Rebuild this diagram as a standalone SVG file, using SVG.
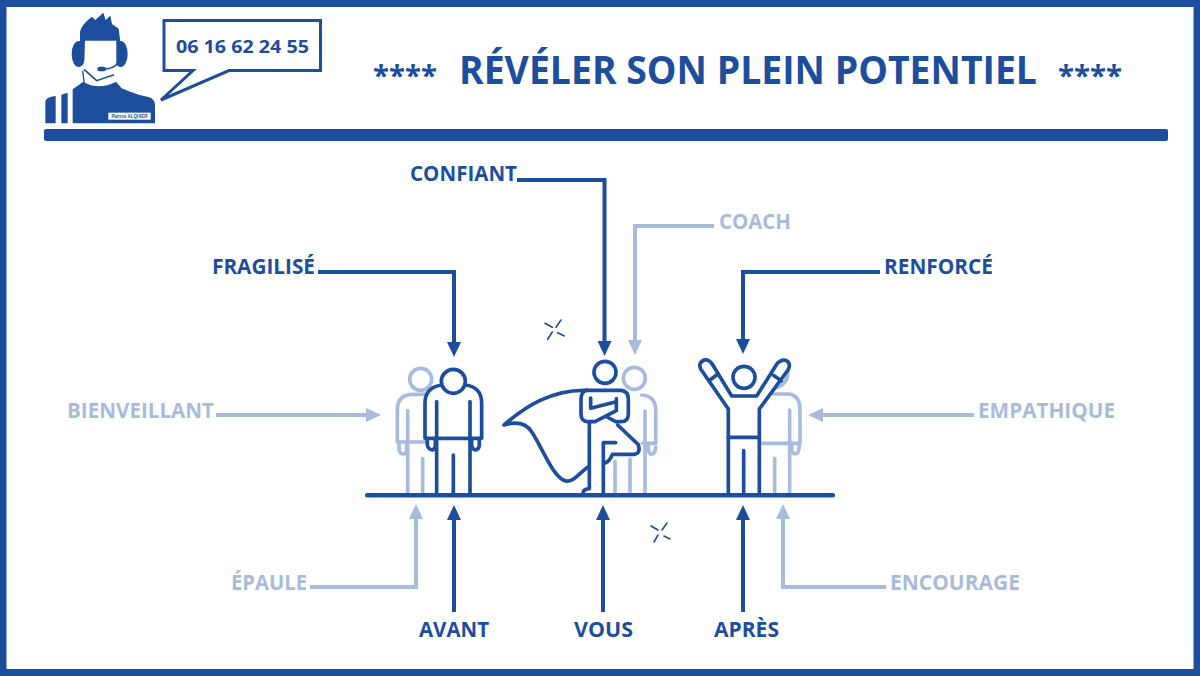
<svg xmlns="http://www.w3.org/2000/svg" width="1200" height="676" viewBox="0 0 1200 676">
  <style>
    text { font-family: "Open Sans", "Liberation Sans", sans-serif; font-weight: 700; }
    .dk { fill: #1d4e9e; }
    .lt { fill: #a9bbdc; }
    .label { font-size: 20.500px; }
    .fig { fill: none; stroke-width: 11; stroke-linecap: round; stroke-linejoin: round; }
    .figd { stroke: #1d4e9e; }
    .figl { stroke: #a9bbdc; }
    .link { fill: none; stroke-width: 4; }
    .linkd { stroke: #1d4e9e; marker-end: url(#headd); }
    .linkl { stroke: #a9bbdc; marker-end: url(#headl); }
    .spark { stroke: #1d4e9e; stroke-width: 1.6; stroke-linecap: round; }
  </style>
  <defs>
    <marker id="headd" markerUnits="userSpaceOnUse" markerWidth="15" markerHeight="14" refX="0" refY="7" orient="auto">
      <path d="M0,0 L15,7 L0,14 Z" fill="#1d4e9e"/>
    </marker>
    <marker id="headl" markerUnits="userSpaceOnUse" markerWidth="15" markerHeight="14" refX="0" refY="7" orient="auto">
      <path d="M0,0 L15,7 L0,14 Z" fill="#a9bbdc"/>
    </marker>
  </defs>

  <rect width="1200" height="676" fill="#ffffff"/>
  <rect x="3" y="3.500" width="1194" height="669" fill="none" stroke="#1d4e9e" stroke-width="7"/>

  <!-- Operator portrait, drawn on a 3x grid -->
  <g id="operator" transform="translate(30,0) scale(0.33333)">
    <ellipse cx="146" cy="162" rx="21" ry="39" class="dk"/>
    <ellipse cx="272" cy="162" rx="21" ry="39" class="dk"/>
    <path class="dk" d="M150,150 L150,95 Q155,72 186,50 L196,60 L220,38 L227,60 L241,47 L246,72 L266,86 L274,150 Z"/>
    <path fill="#ffffff" d="M165,122 H259 V185 Q255,225 210,241 Q175,235 163,190 Z"/>
    <path fill="none" stroke="#1d4e9e" stroke-width="5" d="M262,192 Q250,205 225,207"/>
    <rect x="202" y="200" width="26" height="14" rx="7" class="dk"/>
    <path fill="none" stroke="#1d4e9e" stroke-width="5" d="M162,208 L200,242 L252,224"/>
    <path fill="none" stroke="#1d4e9e" stroke-width="4" d="M158,212 L162,246"/>
    <path class="dk" d="M128,370 V268 L160,245 Q205,272 258,245 L275,265 Q320,285 358,292 Q375,298 375,315 V370 Z"/>
    <path class="dk" d="M46,370 V305 Q46,292 77,288 V370 Z"/>
    <path class="dk" d="M94,370 V284 L113,278 V370 Z"/>
    <rect x="235" y="338" width="127" height="21" fill="#ffffff"/>
    <text x="298.500" y="353" text-anchor="middle" style="font-family:'Liberation Sans',sans-serif" font-size="13.500" fill="#1d4e9e">Patrice ALQUIER</text>
  </g>

  <g id="phone-bubble">
    <path d="M164,20.500 H320.500 V70.500 H229 L161,100 L193,70.500 H164 Z" fill="#ffffff" stroke="#1d4e9e" stroke-width="3"/>
    <text x="176" y="52.500" class="dk" font-size="18.500" textLength="133" lengthAdjust="spacingAndGlyphs">06 16 62 24 55</text>
  </g>

  <g id="title">
    <text x="373" y="86" class="dk" font-size="29" textLength="64" lengthAdjust="spacingAndGlyphs">****</text>
    <text x="459" y="83.500" class="dk" font-size="39" textLength="578" lengthAdjust="spacingAndGlyphs">RÉVÉLER SON PLEIN POTENTIEL</text>
    <text x="1058" y="86" class="dk" font-size="29" textLength="64" lengthAdjust="spacingAndGlyphs">****</text>
  </g>

  <rect id="header-rule" x="44" y="129" width="1124" height="12" rx="2" class="dk"/>

  <!-- Standing figure with a companion behind -->
  <g id="figure-avant" transform="translate(380,340) scale(0.33333)">
    <g class="fig figl">
      <circle cx="122" cy="118" r="33"/>
      <path d="M135,163 H95 Q52,165 52,210 V306 H140"/>
      <path d="M57,306 V328 Q58,342 72,342 Q80,340 80,328 V306"/>
      <path d="M83,212 V462"/>
      <path d="M128,356 V462"/>
    </g>
    <g class="fig figd">
      <path d="M188,135 Q135,140 135,190 V295 H305 V190 Q305,140 255,135"/>
      <circle cx="220" cy="124" r="36" fill="#ffffff"/>
      <path d="M170,185 V462"/>
      <path d="M270,185 V462"/>
      <path d="M220,345 V462"/>
      <path d="M142,295 V316 Q146,330 158,330 Q166,326 166,316 V295"/>
      <path d="M275,295 V316 Q278,330 288,330 Q298,326 298,316 V295"/>
    </g>
  </g>

  <!-- Caped figure with a companion behind -->
  <g id="figure-vous" transform="translate(495,310) scale(0.33333)">
    <g class="fig figl">
      <circle cx="418" cy="205" r="33"/>
      <path d="M440,255 Q482,258 482,300 V400 H442"/>
      <path d="M460,400 V422 Q464,434 472,432 Q482,428 482,412"/>
      <path d="M450,303 V550"/>
      <path d="M405,447 V550"/>
      <path d="M360,455 V550"/>
    </g>
    <g class="fig figd">
      <circle cx="330" cy="187" r="33"/>
      <path d="M275,241 H378 Q400,243 400,268 V312 Q400,335 378,335 H362 L336,321"/>
      <path d="M275,241 Q258,245 258,268 V312 Q258,335 280,335 H300 L364,302 V266"/>
      <path d="M287,264 V295 L358,277"/>
      <path d="M275,241 C170,238 90,290 27,345 C60,335 90,335 110,365 C140,410 170,492 205,510 C232,524 250,490 280,470"/>
      <path d="M283,338 V536 Q264,538 264,550"/>
      <path d="M362,398 H325 V550"/>
      <path d="M368,345 L430,404 Q438,430 418,433 H352 Q344,455 328,460"/>
    </g>
  </g>

  <!-- Figure with raised arms and a companion behind -->
  <g id="figure-apres" transform="translate(690,340) scale(0.33333)">
    <g class="fig figl">
      <path d="M293,92 Q296,130 262,142"/>
      <path d="M250,162 H295 Q330,165 330,210 V310 H214"/>
      <path d="M305,310 V332 Q310,344 320,340 Q328,336 328,312"/>
      <path d="M299,210 V462"/>
      <path d="M254,355 V462"/>
    </g>
    <g class="fig figd">
      <circle cx="162" cy="112" r="33"/>
      <path d="M115,207 L32,87 Q24,68 43,60 Q58,58 68,74 L125,168 H200 L262,70 Q275,56 290,62 Q304,72 294,90 L208,207 V462"/>
      <path d="M115,207 V462"/>
      <path d="M115,292 H208"/>
      <path d="M161,332 V462"/>
      <path d="M60,120 L84,102"/>
      <path d="M250,106 L274,122"/>
    </g>
  </g>

  <rect id="ground" x="365" y="493" width="470" height="4.500" rx="2" class="dk"/>

  <g id="sparkles" class="spark">
    <path d="M545,323.300 L552.300,327.300 M561,320 L556,327.300 M547.700,339.300 L552.300,332 M557.700,332.700 L564.300,336"/>
    <path d="M651,526 L658,530 M667,523 L662,530 M654,542 L658,535 M664,536 L670,539"/>
  </g>

  <g id="connectors">
    <path class="link linkd" d="M517,180 H604.500 V341"/>
    <path class="link linkl" d="M714,226 H635 V340"/>
    <path class="link linkd" d="M318,272 H454 V342"/>
    <path class="link linkd" d="M880,272 H743 V339"/>
    <path class="link linkl" d="M216,415 H366"/>
    <path class="link linkl" d="M974,415 H823"/>
    <path class="link linkl" d="M310,587 H416 V519"/>
    <path class="link linkd" d="M454,612 V520"/>
    <path class="link linkd" d="M603,612 V520"/>
    <path class="link linkd" d="M743,612 V520"/>
    <path class="link linkl" d="M886,587 H783 V519"/>
  </g>

  <g id="label-confiant"><text class="label dk" x="410" y="180.600" textLength="107" lengthAdjust="spacingAndGlyphs">CONFIANT</text></g>
  <g id="label-coach"><text class="label lt" x="719" y="228.600" textLength="72" lengthAdjust="spacingAndGlyphs">COACH</text></g>
  <g id="label-fragilise"><text class="label dk" x="212" y="273.600" textLength="103" lengthAdjust="spacingAndGlyphs">FRAGILISÉ</text></g>
  <g id="label-renforce"><text class="label dk" x="884" y="273.600" textLength="109" lengthAdjust="spacingAndGlyphs">RENFORCÉ</text></g>
  <g id="label-bienveillant"><text class="label lt" x="67" y="417.600" textLength="147" lengthAdjust="spacingAndGlyphs">BIENVEILLANT</text></g>
  <g id="label-empathique"><text class="label lt" x="978" y="417.600" textLength="137" lengthAdjust="spacingAndGlyphs">EMPATHIQUE</text></g>
  <g id="label-epaule"><text class="label lt" x="231" y="589.600" textLength="76" lengthAdjust="spacingAndGlyphs">ÉPAULE</text></g>
  <g id="label-encourage"><text class="label lt" x="890" y="589.600" textLength="130" lengthAdjust="spacingAndGlyphs">ENCOURAGE</text></g>
  <g id="label-avant"><text class="label dk" x="419" y="636.600" textLength="70" lengthAdjust="spacingAndGlyphs">AVANT</text></g>
  <g id="label-vous"><text class="label dk" x="574" y="636.600" textLength="59" lengthAdjust="spacingAndGlyphs">VOUS</text></g>
  <g id="label-apres"><text class="label dk" x="714" y="636.600" textLength="65" lengthAdjust="spacingAndGlyphs">APRÈS</text></g>
</svg>
